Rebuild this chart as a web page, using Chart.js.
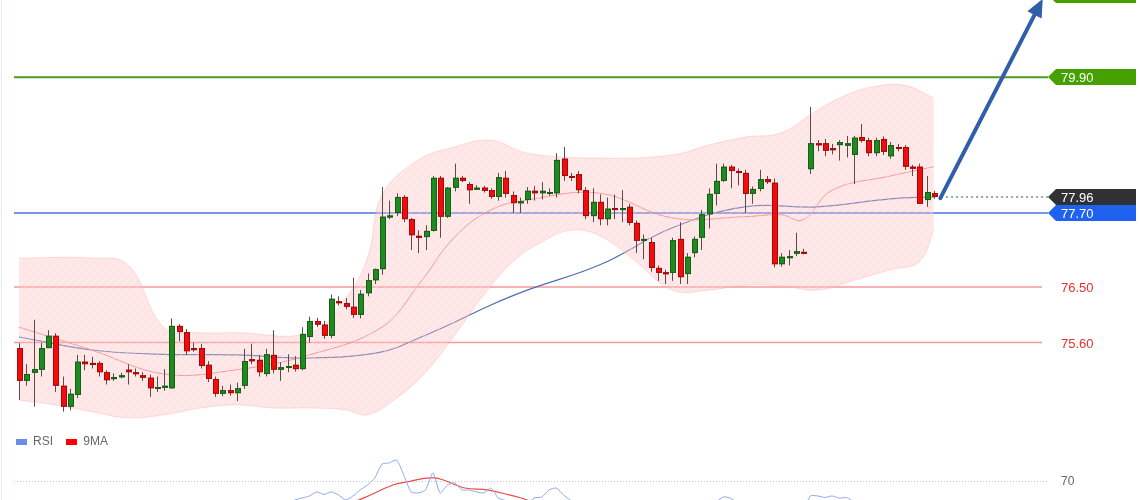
<!DOCTYPE html>
<html><head><meta charset="utf-8">
<script src="https://cdn.jsdelivr.net/npm/chart.js@4"></script>
<style>
html,body{margin:0;padding:0;background:#fff;overflow:hidden}
#wrap{position:relative;width:1140px;height:500px;font-family:"Liberation Sans",Arial,sans-serif}
#main{position:absolute;left:0;top:0}
#rsi{position:absolute;left:0;top:425px}
#leg{position:absolute;left:16px;top:434px;font-size:12px;color:#666}
#leg span.b{display:inline-block;width:11px;height:6px;margin-right:6px;vertical-align:middle}
#edge{position:absolute;left:1px;top:0;width:1px;height:500px;background:#e4ebeb}
</style></head><body>
<div id="wrap">
<canvas id="main" width="1140" height="425"></canvas>
<canvas id="rsi" width="1140" height="75"></canvas>
<div id="edge"></div>
<div id="leg"><span class="b" style="background:#6b8de3"></span>RSI&nbsp;&nbsp;&nbsp;&nbsp;<span class="b" style="background:#f00"></span>9MA</div>
</div>
<script>
// ---- candle data (index = candle number) ----
const opens  = [75.51,74.98,75.11,75.16,75.51,75.71,74.90,74.56,74.75,75.29,75.27,75.27,75.12,75.01,75.06,75.16,75.12,75.07,75.03,74.87,74.88,74.86,75.87,75.77,75.51,75.51,75.24,75.01,74.77,74.83,74.78,74.90,75.33,75.32,75.09,75.40,75.16,75.20,75.24,75.17,75.69,75.95,75.89,75.71,76.27,76.24,76.18,76.05,76.40,76.61,76.79,77.65,77.70,77.96,77.60,77.33,77.31,77.41,78.27,77.64,78.11,78.27,78.17,78.11,78.11,78.07,77.96,78.27,77.99,77.86,77.91,78.06,78.02,78.04,78.02,78.58,78.30,78.33,78.07,77.65,77.88,77.60,77.78,77.75,77.80,77.54,77.25,77.23,76.81,76.74,76.73,77.28,76.71,77.05,77.30,77.68,78.01,78.22,78.45,78.38,78.35,78.01,78.09,78.25,78.19,76.87,76.99,77.04,77.07,78.41,78.83,78.83,78.75,78.80,78.79,78.64,78.93,78.88,78.67,78.90,78.62,78.77,78.77,78.45,78.45,77.91,78.02];
const closes = [74.98,75.09,75.17,75.51,75.71,74.90,74.56,74.77,75.29,75.25,75.25,75.12,74.99,75.04,75.07,75.12,75.11,75.03,74.86,74.88,74.90,75.87,75.77,75.46,75.50,75.22,75.01,74.77,74.83,74.78,74.86,75.30,75.30,75.12,75.41,75.16,75.20,75.22,75.17,75.74,75.95,75.89,75.71,76.31,76.24,76.18,76.05,76.39,76.61,76.79,77.64,77.66,77.96,77.60,77.34,77.31,77.41,78.27,77.64,78.11,78.27,78.22,78.07,78.11,78.06,77.96,78.28,78.01,77.86,77.89,78.06,78.02,78.06,78.04,78.56,78.30,78.27,78.07,77.65,77.88,77.60,77.77,77.75,77.78,77.54,77.25,77.28,76.81,76.73,76.71,77.26,76.66,76.99,77.28,77.68,78.01,78.22,78.45,78.38,78.35,78.01,78.09,78.25,78.20,76.87,76.99,77.00,77.08,77.06,78.83,78.82,78.71,78.74,78.85,78.83,78.92,78.87,78.67,78.88,78.69,78.80,78.75,78.45,78.43,77.85,78.04,77.96];
const highs  = [75.59,75.25,75.97,75.60,75.80,75.75,75.05,74.85,75.40,75.40,75.37,75.30,75.15,75.10,75.11,75.25,75.18,75.12,75.08,75.05,75.17,75.99,75.90,75.82,75.60,75.58,75.30,75.05,74.90,74.92,74.95,75.50,75.58,75.40,75.50,75.80,75.28,75.41,75.38,75.85,76.02,76.00,75.95,76.38,76.35,76.32,76.65,76.45,76.72,76.80,78.12,77.90,78.02,77.99,77.62,77.42,77.50,78.30,78.30,78.12,78.50,78.30,78.20,78.15,78.14,78.10,78.35,78.38,78.05,77.95,78.12,78.14,78.20,78.10,78.67,78.77,78.35,78.38,78.12,78.10,78.00,77.95,78.00,78.07,77.85,77.58,77.35,77.30,76.85,76.78,77.30,77.55,77.05,77.32,77.75,78.10,78.50,78.50,78.48,78.42,78.40,78.13,78.40,78.30,78.26,77.05,77.10,77.38,77.12,79.42,78.88,78.90,78.82,78.88,78.95,78.95,79.14,78.92,78.92,78.94,78.85,78.82,78.80,78.48,78.50,78.30,78.06];
const lows   = [74.67,74.90,74.56,75.05,75.60,74.80,74.48,74.50,74.70,75.15,75.18,75.05,74.92,74.98,75.02,74.92,75.05,74.98,74.72,74.80,74.82,74.85,75.62,75.40,75.45,75.18,74.96,74.72,74.73,74.74,74.65,74.85,75.25,75.05,75.05,75.10,74.98,75.12,75.13,75.15,75.60,75.85,75.66,75.67,76.20,76.14,76.00,75.99,76.35,76.55,76.70,77.60,77.65,77.55,77.10,77.05,77.10,77.40,77.30,77.62,78.05,78.20,77.85,78.08,78.03,77.93,77.90,77.95,77.70,77.70,77.85,77.90,77.92,77.98,77.95,78.22,78.22,78.02,77.60,77.55,77.50,77.50,77.60,77.55,77.50,77.05,76.95,76.75,76.60,76.55,76.60,76.55,76.55,76.98,77.10,77.45,77.82,78.20,78.10,78.15,77.70,77.85,78.05,78.17,76.82,76.83,76.85,77.00,77.03,78.33,78.70,78.62,78.65,78.55,78.60,78.17,78.84,78.62,78.62,78.64,78.58,78.70,78.40,78.30,77.85,77.80,77.93];

// ---- indicator data ----
const redMAIdx = [0,10,20,30,40,50,55,60,65,70,80,90,100,105,108,112,120,126];
const redMA    = [75.85,75.48,75.09,75.16,75.40,75.85,76.53,77.31,77.75,77.91,78.02,77.62,77.64,77.67,77.59,78.07,78.30,78.45];
const blueMAIdx = [0,10,20,30,40,50,55,60,65,70,80,90,100,110,120,126];
const blueMA    = [75.69,75.48,75.41,75.40,75.35,75.45,75.67,75.93,76.21,76.45,76.86,77.46,77.80,77.80,77.93,77.96];
const upperIdx = [0,10,15,20,25,30,40,45,48,50,55,60,65,70,80,90,95,100,105,110,113,117,122,126];
const upperBand= [76.97,76.97,76.86,75.84,75.76,75.76,75.76,76.32,76.97,77.99,78.56,78.77,78.88,78.67,78.59,78.64,78.80,78.93,79.00,79.37,79.56,79.73,79.77,79.56];
const lowerIdx = [0,5,10,15,20,25,30,35,40,45,48,52,56,60,64,68,72,76,80,85,90,95,100,105,110,115,120,124,126];
const lowerBand= [74.67,74.59,74.48,74.38,74.43,74.54,74.59,74.54,74.54,74.51,74.43,74.70,75.12,75.72,76.37,76.91,77.23,77.42,77.33,76.91,76.45,76.45,76.53,76.52,76.45,76.61,76.78,76.91,77.42];

// ---- levels ----
const levels      = [81.23, 79.90, 77.70, 76.50, 75.60];
const levelLabels = ["81.23","79.90","77.70","76.50","75.60"];
const lastPrice = 77.96;
const arrowFrom = [126.9, 77.94];
const arrowTo   = [141.0, 81.17];

// ---- RSI ----
const rsiIdx = [36,38,40,41,42,43,44,45,46,47,48,49,50,51,52,53,54,55,56,57,58,59,60,61,62,63,64,65,66,67,70,71,72,73,74,75,76,78];
const rsiVal = [52,57.3,60,62.7,61,62.7,60.7,57.3,60,64,67.3,72,81.3,82,84,74,62.7,62,64,75.3,62,67.3,68.7,64,64,62.7,62,65.3,58.7,57,55,58.7,59.3,64,65.3,60.7,57,52];
const rsi2Idx = [95,97,98,100,108,109,110,111,112,113,114,116];
const rsi2Val = [52,59.3,58.5,52,52,60,60,59,60,58.5,59,52];
const maIdx = [44,47.5,51.5,53.4,57.2,61.4,64.5,67.5,70,72];
const ma9   = [52,58.7,67.3,69.3,72,65.3,64,60.7,57.3,52];
const rsiLevel = 70;

const pts = (ix, v) => ix.map((x,i)=>({x, y:v[i]}));

function hatch(){
  const c=document.createElement('canvas');c.width=8;c.height=8;
  const g=c.getContext('2d');
  g.fillStyle='rgba(255,190,190,0.38)';g.fillRect(0,0,8,8);
  g.strokeStyle='rgba(255,255,255,0.35)';g.lineWidth=1;
  g.beginPath();g.moveTo(0,8);g.lineTo(8,0);g.stroke();
  return g.createPattern(c,'repeat');
}

const X0=14, XE=1048;
const levelColors=['#45a000','#4d9a22','#7196ea','#f29a9a','#f29a9a'];

const levelsPlugin={id:'levels',
  beforeDatasetsDraw(ch){
    const g=ch.ctx,y=ch.scales.y;
    g.save();
    levels.forEach((v,i)=>{
      if(i===0) return;
      const py=y.getPixelForValue(v);
      g.strokeStyle=levelColors[i];
      g.lineWidth=i<3?2:1.5;
      g.beginPath();g.moveTo(X0,py);g.lineTo(i<3?XE:1042,py);g.stroke();
    });
    g.restore();
  },
  afterDatasetsDraw(ch){
    const g=ch.ctx,x=ch.scales.x,y=ch.scales.y;
    g.save();
    for(let i=0;i<opens.length;i++){
      const px=Math.round(x.getPixelForValue(i));
      const up=closes[i]>=opens[i];
      g.strokeStyle='#5a4a4a';g.lineWidth=1;
      g.beginPath();g.moveTo(px+0.5,y.getPixelForValue(highs[i]));g.lineTo(px+0.5,y.getPixelForValue(lows[i]));g.stroke();
      const t=y.getPixelForValue(Math.max(opens[i],closes[i]));
      const b=y.getPixelForValue(Math.min(opens[i],closes[i]));
      g.fillStyle=up?'#1f8a1f':'#f20c0c';
      g.strokeStyle=up?'#155e15':'#a30a0a';
      g.fillRect(px-2,t,6,Math.max(2,b-t));
      g.strokeRect(px-2+0.5,t+0.5,5,Math.max(1,b-t-1));
    }
    g.restore();
  },
  afterDraw(ch){
    const g=ch.ctx,x=ch.scales.x,y=ch.scales.y;
    g.save();
    const ly=y.getPixelForValue(lastPrice);
    g.strokeStyle='#98a4ae';g.setLineDash([2,3]);g.lineWidth=2;
    g.beginPath();g.moveTo(x.getPixelForValue(127),ly);g.lineTo(XE,ly);g.stroke();g.setLineDash([]);
    const ax=x.getPixelForValue(arrowFrom[0]),ay=y.getPixelForValue(arrowFrom[1]);
    const bx=x.getPixelForValue(arrowTo[0]),by=y.getPixelForValue(arrowTo[1]);
    const ang=Math.atan2(by-ay,bx-ax);
    g.strokeStyle='#2e5fa8';g.lineWidth=4;g.lineCap='round';
    g.beginPath();g.moveTo(ax,ay);g.lineTo(bx-12*Math.cos(ang),by-12*Math.sin(ang));g.stroke();
    g.fillStyle='#2e5fa8';g.beginPath();
    g.moveTo(bx,by);
    g.lineTo(bx-18*Math.cos(ang)+8*Math.sin(ang),by-18*Math.sin(ang)-8*Math.cos(ang));
    g.lineTo(bx-18*Math.cos(ang)-8*Math.sin(ang),by-18*Math.sin(ang)+8*Math.cos(ang));
    g.closePath();g.fill();
    function tag(v,txt,bg,fg){
      const py=Math.round(y.getPixelForValue(v));
      if(bg){
        g.fillStyle=bg;g.beginPath();
        g.moveTo(XE,py);g.lineTo(XE+8,py-8);g.lineTo(1136,py-8);g.lineTo(1136,py+8);g.lineTo(XE+8,py+8);g.closePath();g.fill();
      }
      g.fillStyle=fg;g.font='13px "Liberation Sans", Arial, sans-serif';g.textBaseline='middle';
      g.fillText(txt,1061,py+1);
    }
    tag(levels[0],levelLabels[0],'#45a000','#fff');
    tag(levels[1],levelLabels[1],'#45a000','#fff');
    tag(lastPrice,lastPrice.toFixed(2),'#2f3133','#fff');
    tag(levels[2],levelLabels[2],'#1f62f0','#fff');
    tag(levels[3],levelLabels[3],null,'#e8302e');
    tag(levels[4],levelLabels[4],null,'#e8302e');
    g.restore();
  }
};

const common={responsive:false,animation:false,maintainAspectRatio:false,
  layout:{padding:0},events:[],
  plugins:{legend:{display:false},tooltip:{enabled:false}},
  elements:{point:{radius:0}}};

new Chart(document.getElementById('main'),{
  type:'line',
  data:{datasets:[
    {data:pts(upperIdx,upperBand),borderColor:'rgba(255,160,160,0.35)',borderWidth:1,tension:0.4,fill:false},
    {data:pts(lowerIdx,lowerBand),borderColor:'rgba(255,160,160,0.35)',borderWidth:1,tension:0.4,fill:'-1',backgroundColor:hatch()},
    {data:pts(redMAIdx,redMA),borderColor:'rgba(238,110,110,0.85)',borderWidth:1,tension:0.4},
    {data:pts(blueMAIdx,blueMA),borderColor:'#4d6fb0',borderWidth:1.2,tension:0.4}
  ]},
  options:{...common,
    scales:{
      x:{type:'linear',min:-2.62,max:154.4,display:false},
      y:{type:'linear',min:74.264,max:81.152,display:false}
    }},
  plugins:[levelsPlugin]
});

const rsiPlugin={id:'rsiLvl',
  beforeDatasetsDraw(ch){
    const g=ch.ctx,y=ch.scales.y;const py=Math.round(y.getPixelForValue(rsiLevel))+0.5;
    g.save();g.strokeStyle='#c9cccc';g.setLineDash([1,2]);g.lineWidth=1;
    g.beginPath();g.moveTo(X0,py);g.lineTo(XE,py);g.stroke();g.setLineDash([]);
    g.fillStyle='#666';g.font='12px "Liberation Sans", Arial, sans-serif';g.textBaseline='middle';
    g.fillText(String(rsiLevel),1061,py);
    g.restore();
  }};

new Chart(document.getElementById('rsi'),{
  type:'line',
  data:{datasets:[
    {data:pts(rsiIdx,rsiVal),borderColor:'#8ea8ee',borderWidth:1,tension:0.2},
    {data:pts(rsi2Idx,rsi2Val),borderColor:'#8ea8ee',borderWidth:1,tension:0.2},
    {data:pts(maIdx,ma9),borderColor:'#f04848',borderWidth:1.2,tension:0.4}
  ]},
  options:{...common,
    scales:{
      x:{type:'linear',min:-2.62,max:154.4,display:false},
      y:{type:'linear',min:57.3,max:107.3,display:false}
    }},
  plugins:[rsiPlugin]
});
</script>
</body></html>
